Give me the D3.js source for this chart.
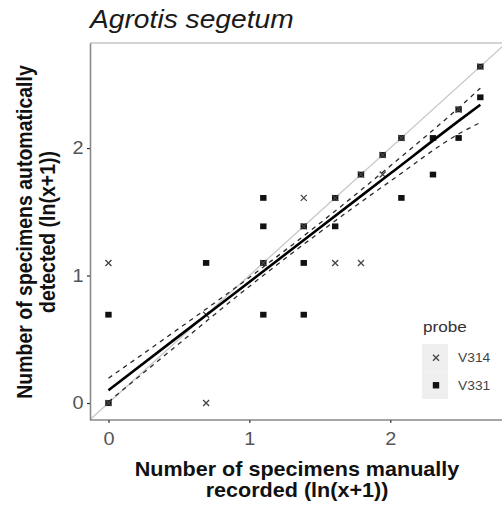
<!DOCTYPE html>
<html>
<head>
<meta charset="utf-8">
<script src="https://cdn.jsdelivr.net/npm/d3@7"></script>
<style>
  html, body { margin: 0; padding: 0; background: #fff; }
  svg { display: block; font-family: "Liberation Sans", Arial, sans-serif; }
</style>
</head>
<body>
<svg id="chart" width="502" height="508"></svg>
<script>
// ln(x+1) counts: manual (x) vs automatic (y), per probe
const v314X = [0, 0, 0.693, 0.693, 1.099, 1.386, 1.386, 1.609, 1.609, 1.792, 1.792, 1.946, 1.946, 2.079, 2.485, 2.639];
const v314Y = [1.099, 0, 0, 0.693, 1.099, 1.609, 1.386, 1.099, 1.609, 1.099, 1.792, 1.792, 1.946, 2.079, 2.303, 2.639];

const v331X = [0, 0, 0.693, 1.099, 1.099, 1.099, 1.099, 1.386, 1.386, 1.386, 1.609, 1.609, 1.792, 1.946, 2.079, 2.079, 2.303, 2.303, 2.485, 2.485, 2.639, 2.639];
const v331Y = [0, 0.693, 1.099, 1.099, 0.693, 1.609, 1.386, 1.099, 0.693, 1.386, 1.609, 1.386, 1.792, 1.946, 2.079, 1.609, 2.079, 1.792, 2.303, 2.079, 2.639, 2.398];

// linear fit with its confidence band
const fitX = [0, 0.5, 1, 1.5, 2, 2.5, 2.639];
const fitY = [0.10, 0.525, 0.95, 1.375, 1.80, 2.225, 2.34];
const ciUpper = [0.195, 0.585, 0.985, 1.41, 1.86, 2.33, 2.47];
const ciLower = [0.01, 0.465, 0.915, 1.34, 1.74, 2.12, 2.20];

const xTicks = [0, 1, 2];
const yTicks = [0, 1, 2];
const probes = ["V314", "V331"];

const title = "Agrotis segetum";
const xTitle = ["Number of specimens manually", "recorded (ln(x+1))"];
const yTitle = ["Number of specimens automatically", "detected (ln(x+1))"];

// text is drawn slightly wide, as in the figure's layout
const SX = 1.106;

const svg = d3.select("#chart");
const panel = { left: 90, right: 503, top: 43, bottom: 420 };

const x = d3.scaleLinear().domain([-0.131, 2.80]).range([panel.left, panel.right]);
const y = d3.scaleLinear().domain([-0.133, 2.824]).range([panel.bottom, panel.top]);

svg.append("defs").append("clipPath").attr("id", "panel-clip")
  .append("rect")
  .attr("x", panel.left).attr("y", panel.top)
  .attr("width", panel.right - panel.left).attr("height", panel.bottom - panel.top);

// top frame line
svg.append("line")
  .attr("x1", panel.left).attr("x2", 502)
  .attr("y1", panel.top).attr("y2", panel.top)
  .attr("stroke", "#d4d4d4").attr("stroke-width", 2);

const plot = svg.append("g").attr("clip-path", "url(#panel-clip)");

// 1:1 reference line
plot.append("line")
  .attr("x1", x(-0.2)).attr("y1", y(-0.2))
  .attr("x2", x(3)).attr("y2", y(3))
  .attr("stroke", "#c9c9c9").attr("stroke-width", 1.3);

// points: V331 squares, V314 crosses
const sq = 6.4;
plot.append("g").selectAll("rect")
  .data(d3.range(v331X.length))
  .join("rect")
  .attr("x", i => x(v331X[i]) - sq / 2)
  .attr("y", i => y(v331Y[i]) - sq / 2 + 0.3)
  .attr("width", sq).attr("height", sq - 0.6)
  .attr("fill", "#111");

const cr = 3;
function cross(sel, cx, cy) {
  sel.append("path")
    .attr("d", `M${cx - cr},${cy - cr}L${cx + cr},${cy + cr}M${cx - cr},${cy + cr}L${cx + cr},${cy - cr}`)
    .attr("stroke", "#444").attr("stroke-width", 1.3).attr("fill", "none");
}
const crossG = plot.append("g");
v314X.forEach((v, i) => cross(crossG, x(v), y(v314Y[i])));

// fit and confidence limits
const line = (ys) => d3.line()
  .x((d, i) => x(fitX[i]))
  .y((d, i) => y(ys[i]))
  .curve(d3.curveMonotoneX)(ys);

plot.append("path").attr("d", line(ciUpper))
  .attr("fill", "none").attr("stroke", "#2a2a2a").attr("stroke-width", 1.3)
  .attr("stroke-dasharray", "4.5,4.5");
plot.append("path").attr("d", line(ciLower))
  .attr("fill", "none").attr("stroke", "#2a2a2a").attr("stroke-width", 1.3)
  .attr("stroke-dasharray", "4.5,4.5");
plot.append("path").attr("d", line(fitY))
  .attr("fill", "none").attr("stroke", "#000").attr("stroke-width", 2.6);

// axes
const xAxis = svg.append("g")
  .attr("transform", `translate(0,${panel.bottom})`)
  .call(d3.axisBottom(x).tickValues(xTicks).tickFormat(d3.format("d")).tickSize(3).tickSizeOuter(0).tickPadding(9));
const yAxis = svg.append("g")
  .attr("transform", `translate(${panel.left},0)`)
  .call(d3.axisLeft(y).tickValues(yTicks).tickFormat(d3.format("d")).tickSize(3).tickSizeOuter(0).tickPadding(3.5));

[xAxis, yAxis].forEach(ax => {
  ax.select(".domain").attr("stroke", "#8a8a8a").attr("stroke-width", 1.6);
  ax.selectAll(".tick line").attr("stroke", "#333").attr("stroke-width", 1.2);
  ax.selectAll(".tick text")
    .attr("fill", "#555")
    .style("font-size", "18px")
    .style("font-family", "'Liberation Sans', Arial, sans-serif")
    .attr("transform", `scale(${SX},1)`);
});
yAxis.selectAll(".tick text").attr("x", -6.5 / SX);
// bottom domain runs to the right edge
xAxis.select(".domain").attr("d", `M${panel.left},0H${panel.right}`);

// title
svg.append("text")
  .attr("transform", `translate(${panel.left},28) scale(${SX},1)`)
  .style("font-size", "25.5px").style("font-style", "italic")
  .attr("fill", "#1a1a1a")
  .text(title);

// x axis title
svg.append("g")
  .attr("transform", `translate(297,0) scale(${SX},1)`)
  .selectAll("text").data(xTitle).join("text")
  .attr("y", (d, i) => 476 + i * 21)
  .attr("text-anchor", "middle")
  .style("font-size", "19.5px").style("font-weight", "bold")
  .attr("fill", "#111")
  .text(d => d);

// y axis title
svg.append("g")
  .attr("transform", `translate(0,232) scale(${SX},1) rotate(-90)`)
  .selectAll("text").data(yTitle).join("text")
  .attr("y", (d, i) => 29 + i * 20.8)
  .attr("text-anchor", "middle")
  .style("font-size", "19.5px").style("font-weight", "bold")
  .attr("fill", "#111")
  .text(d => d);

// legend
const lg = svg.append("g");
lg.append("text")
  .attr("transform", `translate(423,332) scale(${SX},1)`)
  .style("font-size", "15.5px").attr("fill", "#333")
  .text("probe");
const keyW = 26, keyH = 27.5, keyX = 422, keyY = 344;
probes.forEach((p, i) => {
  const cy = keyY + keyH * i + keyH / 2;
  lg.append("rect")
    .attr("x", keyX).attr("y", keyY + keyH * i)
    .attr("width", keyW).attr("height", keyH)
    .attr("fill", "#efefef");
  if (p === "V314") {
    cross(lg, keyX + keyW / 2 + 1, cy);
  } else {
    lg.append("rect")
      .attr("x", keyX + keyW / 2 + 1 - sq / 2).attr("y", cy - sq / 2)
      .attr("width", sq).attr("height", sq).attr("fill", "#111");
  }
  lg.append("text")
    .attr("transform", `translate(458,${cy + 4.6}) scale(${SX},1)`)
    .style("font-size", "12.5px").attr("fill", "#444")
    .text(p);
});
</script>
</body>
</html>
